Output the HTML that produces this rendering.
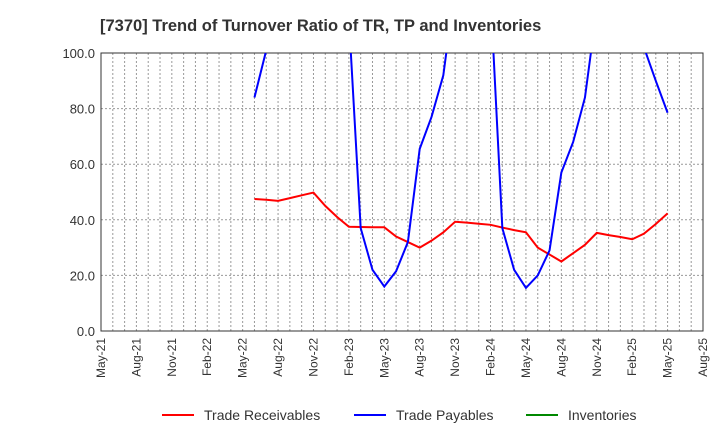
<!DOCTYPE html>
<html><head><meta charset="utf-8"><style>
body{margin:0;background:#fff;font-family:"Liberation Sans",sans-serif}
</style></head><body>
<svg id="chart" width="720" height="440" font-family="Liberation Sans, sans-serif">
<text x="100" y="31" text-anchor="start" font-size="16.5" font-weight="bold" fill="#333">[7370]  Trend of Turnover Ratio of TR, TP and Inventories</text>
<defs><clipPath id="clip"><rect x="101" y="53" width="602" height="278"/></clipPath></defs>
<g id="grid"></g><g id="axes"></g><g id="series" clip-path="url(#clip)"></g>
<g>
<line x1="162" y1="415" x2="194" y2="415" stroke="#f00" stroke-width="2"/>
<text x="204" y="420" font-size="14" fill="#333">Trade Receivables</text>
<line x1="354" y1="415" x2="386" y2="415" stroke="#00f" stroke-width="2"/>
<text x="396" y="420" font-size="14" fill="#333">Trade Payables</text>
<line x1="526" y1="415" x2="558" y2="415" stroke="#080" stroke-width="2"/>
<text x="568" y="420" font-size="14" fill="#333">Inventories</text>
</g>
</svg>
<script>
const xLabels=["May-21","Aug-21","Nov-21","Feb-22","May-22","Aug-22","Nov-22","Feb-23","May-23","Aug-23","Nov-23","Feb-24","May-24","Aug-24","Nov-24","Feb-25","May-25","Aug-25"];
const yTicks=[0,20,40,60,80,100];
const startIdx=13; // Jun-22 (months from May-21)
const receivables=[47.5,47.2,46.8,47.8,48.8,49.8,45,41,37.5,37.4,37.3,37.3,34,32,30,32.5,35.5,39.3,39,38.6,38.2,37.2,36.3,35.5,30,27.5,25,28,31,35.3,34.5,33.8,33,35,38.5,42.3];
const payables=[84,101,200,200,200,200,200,200,112.6,37,22,16,21.5,32,65.5,77,92,124,200,200,121,37,22,15.5,20,29,57,68,84,116,200,200,200,102,90,78.5];
const inventories=[];
const NS="http://www.w3.org/2000/svg";
const L=101,R=703,T=53,B=331,months=51;
const xs=i=>L+(R-L)*i/months, ys=v=>B-(B-T)*v/100;
const grid=document.getElementById('grid'),axes=document.getElementById('axes'),ser=document.getElementById('series');
function mk(tag,at,par){const e=document.createElementNS(NS,tag);for(const k in at)e.setAttribute(k,at[k]);par.appendChild(e);return e;}
for(let m=1;m<months;m++){const l=mk('line',{x1:xs(m),x2:xs(m),y1:T,y2:B,stroke:'#999','stroke-dasharray':'2,2'},grid);

}
yTicks.forEach(v=>{const l=mk('line',{x1:L,x2:R,y1:ys(v),y2:ys(v),stroke:'#999','stroke-dasharray':'2,2'},grid);


const t=mk('text',{x:L-6,y:ys(v)+5,'text-anchor':'end','font-size':13,fill:'#333'},axes);t.textContent=v.toFixed(1);

});
const fr=mk('rect',{x:L,y:T,width:R-L,height:B-T,fill:'none',stroke:'#333'},axes);


xLabels.forEach((s,i)=>{const x=xs(i*3),y=B+7;const t=mk('text',{x:x+4,y:y,'text-anchor':'end','font-size':12,fill:'#333',transform:`rotate(-90 ${x+4} ${y})`},axes);t.textContent=s;

});
function line(arr,col,name){if(!arr.length)return;const p=arr.map((v,i)=>xs(startIdx+i)+','+ys(v)).join(' ');
const e=mk('polyline',{points:p,fill:'none',stroke:col,'stroke-width':2},ser);

}
line(receivables,'#f00','trade-receivables-line');
line(payables,'#00f','trade-payables-line');
line(inventories,'#080','inventories-line');
</script>
</body></html>
